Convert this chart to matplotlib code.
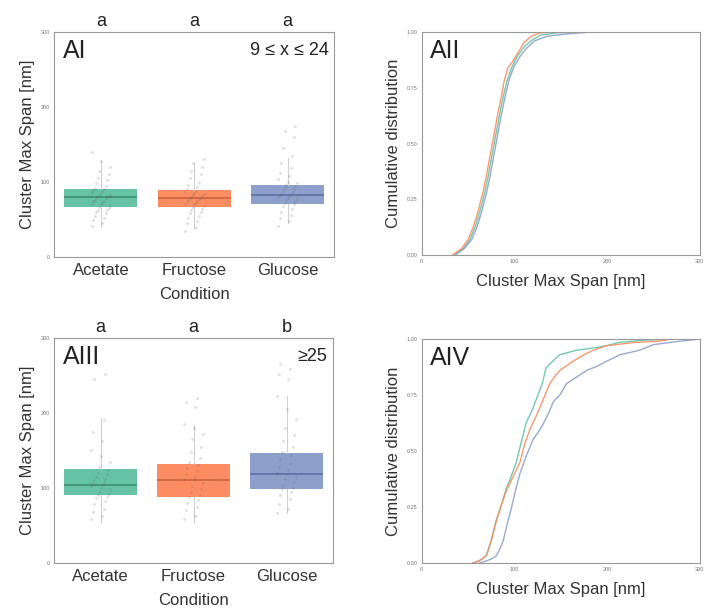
import numpy as np
import matplotlib.pyplot as plt

plt.rcParams['font.family'] = ['Liberation Sans', 'DejaVu Sans']

conditions = ['Acetate', 'Fructose', 'Glucose']
colors = ['#66c2a5', '#fc8d62', '#8da0cb']
median_colors = ['#3f8f71', '#c9643c', '#5b6fa3']

# cluster size 9 <= x <= 24 : individual spans (nm)
small_acetate = [42, 45, 50, 52, 55, 58, 60, 62, 63, 65, 66, 68, 70, 71, 72, 74, 75, 76, 78, 79,
                 80, 80, 81, 82, 83, 85, 86, 88, 89, 90, 92, 95, 98, 102, 105, 110, 115, 120, 128, 140]
small_fructose = [35, 40, 45, 48, 52, 55, 58, 60, 62, 64, 66, 68, 70, 71, 72, 73, 75, 76, 77, 78,
                  79, 80, 81, 82, 84, 85, 86, 88, 90, 93, 96, 100, 105, 110, 115, 120, 125, 130]
small_glucose = [42, 48, 52, 56, 60, 64, 68, 70, 72, 74, 76, 77, 78, 80, 81, 82, 83, 84, 86, 88,
                 90, 92, 94, 96, 98, 100, 104, 108, 112, 118, 125, 135, 145, 160, 168, 175]

# box summary (q1, median, q3, whiskers)
small_q1 = [66, 67, 71]
small_med = [80, 78, 82]
small_q3 = [90, 89, 96]
small_lo = [40, 38, 45]
small_hi = [128, 125, 132]

# cluster size >= 25
large_acetate = [58, 62, 68, 72, 78, 82, 86, 88, 90, 92, 95, 98, 100, 102, 104, 105, 108, 110, 112,
                 115, 118, 120, 124, 128, 135, 142, 150, 162, 175, 190, 245, 252]
large_fructose = [58, 62, 70, 75, 80, 84, 88, 90, 94, 98, 102, 106, 110, 112, 115, 118, 122, 126,
                  130, 134, 140, 148, 155, 165, 172, 180, 185, 208, 215, 220]
large_glucose = [66, 72, 78, 85, 90, 94, 98, 100, 104, 108, 112, 115, 118, 120, 124, 128, 132, 138,
                 144, 148, 155, 162, 170, 180, 192, 205, 222, 245, 252, 258, 265]

large_q1 = [90, 88, 98]
large_med = [104, 110, 118]
large_q3 = [125, 132, 147]
large_lo = [55, 55, 66]
large_hi = [193, 184, 222]

small_letters = ['a', 'a', 'a']
large_letters = ['a', 'a', 'b']

# cumulative distributions (x in nm, y fraction)
cdf_small = {
    'Acetate': ([35, 45, 52, 58, 63, 68, 72, 76, 80, 84, 88, 92, 97, 103, 110, 118, 128, 145, 170, 300],
                [0, 0.03, 0.07, 0.13, 0.2, 0.28, 0.36, 0.45, 0.54, 0.63, 0.71, 0.78, 0.84, 0.89,
                 0.93, 0.96, 0.985, 0.995, 1.0, 1.0]),
    'Fructose': ([33, 43, 50, 56, 61, 66, 70, 74, 78, 82, 86, 89, 93, 97, 103, 110, 118, 128, 145, 300],
                 [0, 0.03, 0.07, 0.13, 0.2, 0.28, 0.36, 0.45, 0.54, 0.63, 0.71, 0.78, 0.84, 0.86,
                  0.9, 0.95, 0.98, 0.995, 1.0, 1.0]),
    'Glucose': ([36, 46, 54, 60, 65, 70, 74, 78, 82, 86, 90, 94, 99, 106, 114, 122, 135, 155, 185, 300],
                [0, 0.03, 0.07, 0.13, 0.2, 0.28, 0.36, 0.45, 0.54, 0.63, 0.71, 0.78, 0.84, 0.89,
                 0.93, 0.96, 0.98, 0.99, 1.0, 1.0]),
}

cdf_large = {
    'Acetate': ([55, 62, 66, 70, 75, 80, 86, 91, 96, 102, 108, 113, 119, 124, 130, 134, 141, 149,
                 167, 185, 199, 213, 240, 270, 300],
                [0, 0.01, 0.02, 0.036, 0.1, 0.185, 0.26, 0.33, 0.38, 0.45, 0.55, 0.63, 0.68, 0.735,
                 0.8, 0.87, 0.9, 0.93, 0.95, 0.96, 0.97, 0.985, 0.995, 1.0, 1.0]),
    'Fructose': ([55, 62, 66, 70, 75, 80, 86, 91, 98, 106, 111, 117, 124, 131, 138, 143, 149, 156,
                  163, 175, 185, 199, 230, 255, 270, 300],
                 [0, 0.01, 0.02, 0.036, 0.1, 0.18, 0.26, 0.32, 0.38, 0.45, 0.53, 0.6, 0.66, 0.73,
                  0.8, 0.83, 0.86, 0.88, 0.9, 0.93, 0.95, 0.97, 0.985, 0.99, 1.0, 1.0]),
    'Glucose': ([62, 70, 76, 80, 84, 88, 92, 97, 101, 106, 113, 120, 125, 131, 137, 142, 149, 156,
                 167, 178, 190, 199, 214, 235, 250, 278, 300],
                [0, 0.01, 0.02, 0.03, 0.06, 0.1, 0.17, 0.25, 0.32, 0.4, 0.48, 0.55, 0.58, 0.62,
                 0.67, 0.72, 0.75, 0.8, 0.83, 0.86, 0.88, 0.9, 0.93, 0.95, 0.975, 0.99, 1.0]),
}


def jitter(n):
    # fixed spread pattern for the strip points
    return np.array([((i * 7) % 13 - 6) / 60 for i in range(n)])


def box_panel(ax, groups, q1, med, q3, lo, hi, letters, label, note):
    stats = []
    for i in range(3):
        stats.append({'q1': q1[i], 'med': med[i], 'q3': q3[i], 'whislo': lo[i],
                      'whishi': hi[i], 'fliers': []})
    b = ax.bxp(stats, positions=range(3), widths=0.78, patch_artist=True, showcaps=False,
               whiskerprops=dict(color='#d0d0d0', lw=0.8),
               boxprops=dict(lw=0), medianprops=dict(lw=1.2))
    for i, patch in enumerate(b['boxes']):
        patch.set_facecolor(colors[i])
        patch.set_edgecolor(colors[i])
        b['medians'][i].set_color(median_colors[i])
    for i, vals in enumerate(groups):
        ax.scatter(i + jitter(len(vals)), vals, s=4, color='#666666', alpha=0.22, lw=0, zorder=3)
    ax.set_xlim(-0.5, 2.5)
    ax.set_ylim(0, 300)
    ax.set_yticks([0, 100, 200, 300])
    ax.set_xticks(range(3))
    ax.set_xticklabels(conditions, fontsize=12, color='#333333')
    ax.tick_params(axis='y', labelsize=4, colors='#777777', length=0, pad=3)
    ax.tick_params(axis='x', length=0, pad=4)
    ax.set_xlabel('Condition', fontsize=12, color='#333333', labelpad=7)
    ax.set_ylabel('Cluster Max Span [nm]', fontsize=12, color='#333333')
    for i, t in enumerate(letters):
        ax.text(i, 1.01, t, transform=ax.get_xaxis_transform(), ha='center', va='bottom',
                fontsize=13, color='#222222')
    ax.text(0.03, 0.97, label, transform=ax.transAxes, ha='left', va='top', fontsize=18,
            color='#222222')
    ax.text(0.98, 0.955, note, transform=ax.transAxes, ha='right', va='top', fontsize=13,
            color='#222222')


def cdf_panel(ax, curves, label):
    for i, c in enumerate(conditions):
        xs, ys = curves[c]
        ax.plot(xs, ys, color=colors[i], lw=1.0, alpha=0.9)
    ax.set_xlim(0, 300)
    ax.set_ylim(0, 1)
    ax.set_xticks([0, 100, 200, 300])
    ax.set_yticks([0, 0.25, 0.5, 0.75, 1.0])
    ax.set_yticklabels(['0.00', '0.25', '0.50', '0.75', '1.00'])
    ax.tick_params(labelsize=4, colors='#777777', length=0, pad=3)
    ax.set_xlabel('Cluster Max Span [nm]', fontsize=12, color='#333333', labelpad=7)
    ax.set_ylabel('Cumulative distribution', fontsize=12, color='#333333')
    ax.text(0.03, 0.97, label, transform=ax.transAxes, ha='left', va='top', fontsize=18,
            color='#222222')


fig = plt.figure(figsize=(7.04, 6.12), dpi=100)
ax1 = fig.add_axes([0.077, 0.580, 0.398, 0.368])
ax2 = fig.add_axes([0.599, 0.583, 0.395, 0.365])
ax3 = fig.add_axes([0.077, 0.080, 0.396, 0.368])
ax4 = fig.add_axes([0.599, 0.080, 0.395, 0.366])

for ax in [ax1, ax2, ax3, ax4]:
    for s in ax.spines.values():
        s.set_color('#999999')
        s.set_linewidth(0.8)

box_panel(ax1, [small_acetate, small_fructose, small_glucose], small_q1, small_med, small_q3,
          small_lo, small_hi, small_letters, 'AI', '9 ≤ x ≤ 24')
cdf_panel(ax2, cdf_small, 'AII')
box_panel(ax3, [large_acetate, large_fructose, large_glucose], large_q1, large_med, large_q3,
          large_lo, large_hi, large_letters, 'AIII', '≥25')
cdf_panel(ax4, cdf_large, 'AIV')

fig.savefig('out.png', dpi=100)
